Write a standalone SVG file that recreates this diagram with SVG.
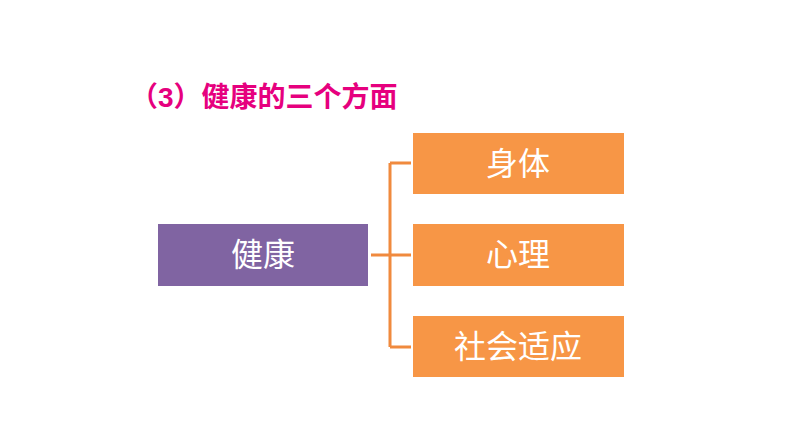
<svg xmlns="http://www.w3.org/2000/svg" width="794" height="447" viewBox="0 0 794 447">
<style>
.t{font-family:"Liberation Sans","Noto Sans CJK SC",sans-serif;fill:#fff;font-size:32px;text-anchor:middle;dominant-baseline:central}
.o{fill:#F79646}
.c{stroke:#F08A3E;stroke-width:3;fill:none}
</style>
<rect width="794" height="447" fill="#fff"/>
<text x="130" y="97" style="font-family:'Liberation Sans','Noto Sans CJK SC',sans-serif;font-size:28px;font-weight:bold;fill:#E6007E;dominant-baseline:central">（3）健康的三个方面</text>
<g id="connectors">
<path class="c" d="M371 255H390M390 163V347M390 163H411M390 255H411M390 347H411"/>
</g>
<g id="health"><rect x="158" y="224" width="210" height="62" fill="#8064A2"/><text class="t" x="263" y="255">健康</text></g>
<g id="body"><rect class="o" x="413" y="133" width="211" height="61"/><text class="t" x="518" y="164">身体</text></g>
<g id="mind"><rect class="o" x="413" y="224" width="211" height="62"/><text class="t" x="518" y="255">心理</text></g>
<g id="social"><rect class="o" x="413" y="316" width="211" height="61"/><text class="t" x="518" y="347">社会适应</text></g>
</svg>
